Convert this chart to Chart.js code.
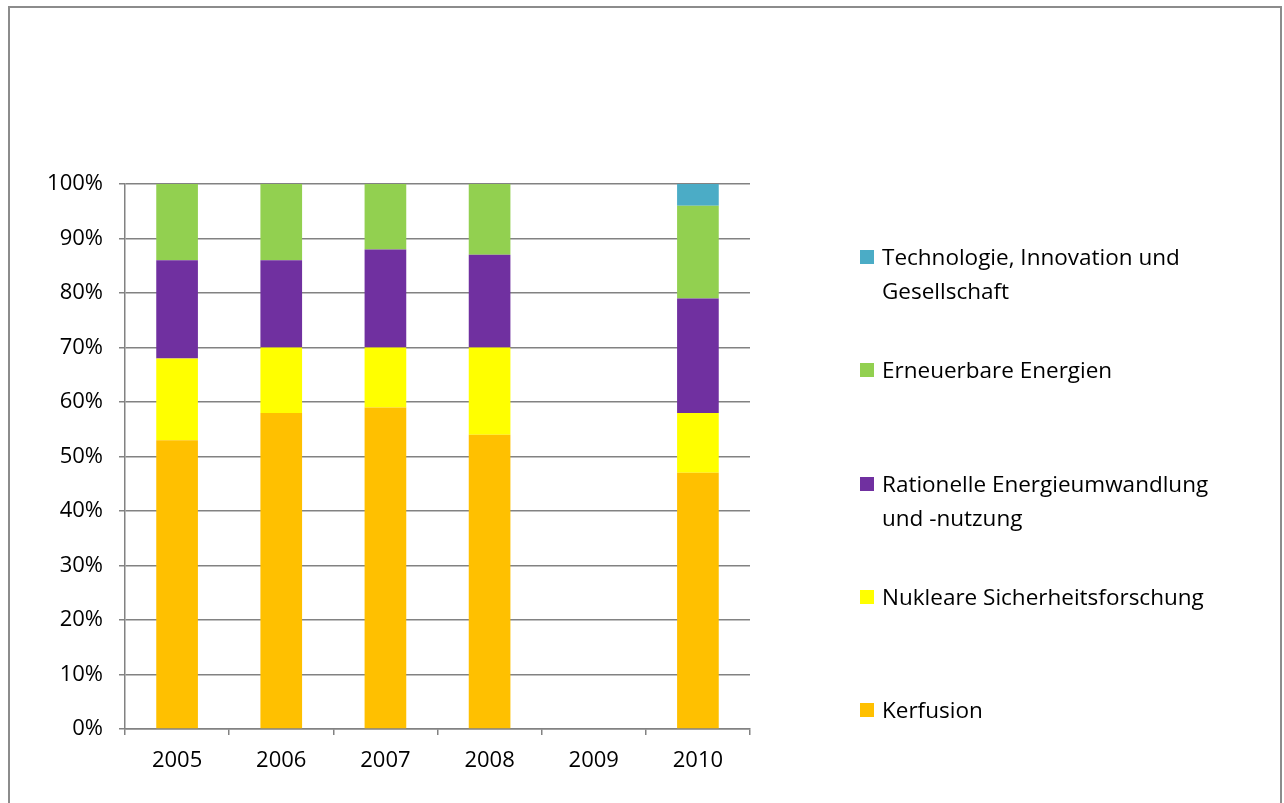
<!DOCTYPE html>
<html>
<head>
<meta charset="utf-8">
<script src="https://cdn.jsdelivr.net/npm/chart.js@4"></script>
<style>
  html, body { margin: 0; padding: 0; background: #fff; }
  body { width: 1284px; height: 803px; position: relative; overflow: hidden; font-family: "Open Sans", sans-serif; }
  #frame { position: absolute; left: 8px; top: 6px; width: 1270px; height: 820px; border: 2px solid #8c8c8c; }
  #wrap { position: absolute; left: 0; top: 0; width: 1284px; height: 803px; }
  #legend { position: absolute; left: 860px; top: 0; width: 420px; }
  .item { position: absolute; left: 0; width: 420px; font-size: 22.5px; line-height: 34px; color: #000; padding-left: 22px; box-sizing: border-box; }
  .item .sw { position: absolute; left: 0; top: 10px; width: 14px; height: 14px; }
</style>
</head>
<body>
<div id="frame"></div>
<div id="wrap"><canvas id="chart"></canvas></div>
<div id="legend"></div>
<script>
"use strict";

const years = ["2005", "2006", "2007", "2008", "2009", "2010"];
const kernfusion = [53, 58, 59, 54, null, 47];
const nukleare = [15, 12, 11, 16, null, 11];
const rationelle = [18, 16, 18, 17, null, 21];
const erneuerbare = [14, 14, 12, 13, null, 17];
const technologie = [0, 0, 0, 0, null, 4];
const yTicks = [0, 10, 20, 30, 40, 50, 60, 70, 80, 90, 100];

const series = [
  { label: "Kerfusion", data: kernfusion, color: "#FFC000" },
  { label: "Nukleare Sicherheitsforschung", data: nukleare, color: "#FFFF00" },
  { label: "Rationelle Energieumwandlung und -nutzung", data: rationelle, color: "#7030A0" },
  { label: "Erneuerbare Energien", data: erneuerbare, color: "#92D050" },
  { label: "Technologie, Innovation und Gesellschaft", data: technologie, color: "#4BACC6" },
];

// legend, top item = last series
const legendEl = document.getElementById("legend");
const legendTop = [240, 353, 467, 580, 693];
series.slice().reverse().forEach((s, i) => {
  const d = document.createElement("div");
  d.className = "item";
  d.style.top = legendTop[i] + "px";
  d.innerHTML = '<span class="sw" style="background:' + s.color + '"></span>' + s.label
    .replace("Innovation und ", "Innovation und<br>")
    .replace("Energieumwandlung ", "Energieumwandlung<br>");
  legendEl.appendChild(d);
});

const gridColor = "#828282";
const ctx = document.getElementById("chart").getContext("2d");

new Chart(ctx, {
  type: "bar",
  data: {
    labels: years,
    datasets: series.map((s) => ({
      label: s.label,
      data: s.data,
      backgroundColor: s.color,
      borderWidth: 0,
      categoryPercentage: 0.8,
      barPercentage: 0.5,
    })),
  },
  options: {
    responsive: true,
    maintainAspectRatio: false,
    animation: false,
    layout: { padding: { top: 184, right: 534, left: 0, bottom: 0 } },
    plugins: { legend: { display: false }, tooltip: { enabled: false } },
    scales: {
      x: {
        stacked: true,
        offset: true,
        border: { color: gridColor, width: 1.5 },
        grid: { display: true, drawOnChartArea: false, drawTicks: true, tickLength: 6, color: gridColor, lineWidth: 1.5, offset: true },
        ticks: { color: "#000", font: { family: "Open Sans", size: 22 }, padding: 13 },
        afterFit: (s) => { s.height = 74; },
      },
      y: {
        stacked: true,
        min: 0,
        max: 100,
        afterBuildTicks: (s) => { s.ticks = yTicks.map((v) => ({ value: v })); },
        border: { color: gridColor, width: 1.5 },
        grid: { color: gridColor, lineWidth: 1.5, tickLength: 6 },
        ticks: { color: "#000", font: { family: "Open Sans", size: 22 }, padding: 16, callback: (v) => v + "%" },
        afterFit: (s) => { s.width = 125; },
      },
    },
  },
});
</script>
</body>
</html>
